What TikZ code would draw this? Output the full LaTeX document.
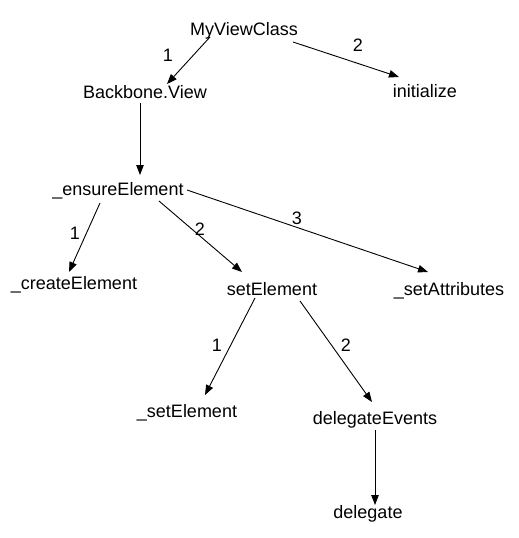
\documentclass[tikz,border=0pt]{standalone}
\usepackage{fontspec}
\setmainfont{Liberation Sans}
\usetikzlibrary{arrows.meta}
\begin{document}
\begin{tikzpicture}[x=1pt,y=-1pt,
  lbl/.style={font=\fontsize{18}{20}\selectfont, inner sep=0pt, anchor=base},
  num/.style={font=\fontsize{18}{20}\selectfont, inner sep=0pt, anchor=center},
  edge/.style={draw=black, line width=0.9pt, -{Triangle[length=10pt,width=7.5pt]}}]
\useasboundingbox[fill=white] (0,0) rectangle (519,538);
% nodes
\node[lbl] (mv) at (244,35) {MyViewClass};
\node[lbl] (bv) at (145,98) {Backbone.View};
\node[lbl] (init) at (425,97) {initialize};
\node[lbl] (en) at (118,195) {\_ensureElement};
\node[lbl] (ce) at (74,289) {\_createElement};
\node[lbl] (se) at (272,295) {setElement};
\node[lbl] (sa) at (449,295) {\_setAttributes};
\node[lbl] (use) at (187,417) {\_setElement};
\node[lbl] (de) at (375,424) {delegateEvents};
\node[lbl] (dl) at (368,518) {delegate};
% labels
\node[num] (l1) at (168,55) {1};
\node[num] (l2) at (358,45) {2};
\node[num] (l3) at (75,233) {1};
\node[num] (l4) at (200,229) {2};
\node[num] (l5) at (297,218) {3};
\node[num] (l6) at (217,345) {1};
\node[num] (l7) at (346,345) {2};
% edges
\draw[edge] ([shift={(-34,2)}]mv.base) -- ([shift={(22,-14)}]bv.base);
\draw[edge] ([shift={(49,7)}]mv.base) -- ([shift={(-26,-20)}]init.base);
\draw[edge] ([shift={(-5,5)}]bv.base) -- ([shift={(22,-20)}]en.base);
\draw[edge] ([shift={(-18,8)}]en.base) -- ([shift={(-5,-17)}]ce.base);
\draw[edge] ([shift={(41,6)}]en.base) -- ([shift={(-30,-23)}]se.base);
\draw[edge] ([shift={(69,-5)}]en.base) -- ([shift={(-21,-23)}]sa.base);
\draw[edge] ([shift={(-17,3)}]se.base) -- ([shift={(18,-22)}]use.base);
\draw[edge] ([shift={(28,6)}]se.base) -- ([shift={(-3,-22)}]de.base);
\draw[edge] ([shift={(0,6)}]de.base) -- ([shift={(7,-13)}]dl.base);
\end{tikzpicture}
\end{document}
